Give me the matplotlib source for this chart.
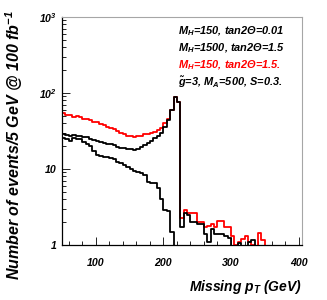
import numpy as np
import matplotlib
matplotlib.use("Agg")
import matplotlib.pyplot as plt
from matplotlib.ticker import FixedLocator, MultipleLocator, FuncFormatter

plt.rcParams['font.family'] = 'Liberation Sans'
plt.rcParams['font.weight'] = 'bold'
plt.rcParams['font.style'] = 'italic'
plt.rcParams['mathtext.fontset'] = 'custom'
plt.rcParams['mathtext.rm'] = 'Liberation Sans:bold:italic'
plt.rcParams['mathtext.it'] = 'Liberation Sans:bold:italic'
plt.rcParams['mathtext.bf'] = 'Liberation Sans:bold:italic'
plt.rcParams['mathtext.default'] = 'regular'

# 5 GeV bins, missing pT from 50 to 405 GeV
edges = np.arange(50, 410, 5)

# M_H=150, tan2Theta=0.01 (no resonance)
mh150_t001 = [25.5, 25, 23.5, 25.5, 25, 24.5, 23, 21.5, 20, 17,
              15.5, 15, 14.5, 14.2, 14, 13.5, 12.5, 12, 11.3, 10.5,
              10, 9.5, 9.2, 8.8, 8.4, 6.8, 6.6, 6.5, 5.6, 4.0,
              2.9, 2.8, 1.5, 0, 0, 0, 0, 0, 0, 0,
              0, 0, 0, 0, 0, 0, 0, 0, 0, 0,
              0, 0, 0, 0, 0, 0, 0, 0, 0, 0,
              0, 0, 0, 0, 0, 0, 0, 0, 0, 0, 0]

# M_H=1500, tan2Theta=1.5
mh1500_t15 = [28.5, 28, 27.5, 28, 27, 27.5, 26.5, 26, 25, 24,
              23.5, 22.5, 22, 21.5, 21.5, 20.5, 19.5, 19, 18.8, 18.5,
              18.5, 17.8, 18.5, 19.5, 21, 22, 23.5, 25.5, 27, 30,
              36, 44, 60, 88, 75, 1.75, 2.65, 2.5, 2.0, 2.0,
              1.9, 1.9, 1.4, 1.1, 1.6, 1.4, 1.4, 1.4, 1.3, 1.25,
              0.9, 0.9, 1.05, 0.9, 0.9, 1.1, 1.15, 0.9, 0.5, 0,
              0, 0, 0, 0, 0, 0, 0, 0, 0, 0, 0]

# M_H=150, tan2Theta=1.5
mh150_t15 = [54, 52, 51, 49, 50, 48, 46, 45, 44, 42,
             41, 39, 38, 36, 35, 33.5, 32, 30, 29, 27.5,
             27, 26.5, 27.5, 27, 28.5, 29, 30, 31, 32.5, 35,
             40, 46, 60, 88, 75, 2.25, 2.9, 2.6, 2.6, 2.6,
             2.0, 2.0, 1.7, 1.8, 1.9, 1.7, 2.1, 2.1, 1.7, 1.7,
             1.3, 1.0, 1.1, 1.2, 1.3, 1.1, 1.0, 0.9, 1.45, 1.15,
             0, 0, 0, 0, 0, 0, 0, 0, 0, 0, 0]

legend_lines = [r"M$_H$=150, tan2Θ=0.01",
                r"M$_H$=1500, tan2Θ=1.5",
                r"M$_H$=150, tan2Θ=1.5.",
                r"$\tilde{g}$=3, M$_A$=500, S=0.3."]
legend_colors = ["black", "black", "red", "black"]

fig = plt.figure(figsize=(3.27, 3.0), dpi=100)
ax = fig.add_axes([62/327, 1-245/300, 240/327, 228/300])


def hist(vals, color):
    v = np.asarray(vals, dtype=float)
    ax.step(edges, np.append(v, v[-1]), where="post", color=color, lw=1.3)


hist(mh150_t15, "red")
hist(mh1500_t15, "black")
hist(mh150_t001, "black")

ax.set_yscale("log", nonpositive="clip")
ax.set_xlim(50, 405)
ax.set_ylim(1, 1000)

ax.xaxis.set_major_locator(FixedLocator([100, 200, 300, 400]))
ax.xaxis.set_minor_locator(MultipleLocator(20))
ylabs = {1: "1", 10: "10", 100: r"10$^{2}$", 1000: r"10$^{3}$"}
ax.yaxis.set_major_formatter(FuncFormatter(lambda v, p: ylabs.get(int(round(v)), "")))
ax.tick_params(which="both", direction="in", top=False, right=False,
               labelsize=7.6, width=0.6)
ax.tick_params(which="major", length=6)
ax.tick_params(which="minor", length=3)
ax.tick_params(axis="x", pad=9)
ax.tick_params(axis="y", pad=4)
for s in ["top", "right"]:
    ax.spines[s].set_color("0.65")
    ax.spines[s].set_linewidth(0.8)
for s in ["left", "bottom"]:
    ax.spines[s].set_linewidth(0.9)

ys = [31, 48, 65, 82]
for txt, c, y in zip(legend_lines, legend_colors, ys):
    fig.text(178/327, 1-y/300, txt, color=c, fontsize=7.9, ha="left", va="center")

fig.text(14/327, 1-10/300, r"Number of events/5 GeV @ 100 fb$^{-1}$",
         rotation=90, ha="center", va="top", fontsize=11.5)
fig.text(302/327, 1-287/300, r"Missing p$_T$ (GeV)", ha="right", va="center",
         fontsize=10)

fig.savefig("out.png", dpi=100)
